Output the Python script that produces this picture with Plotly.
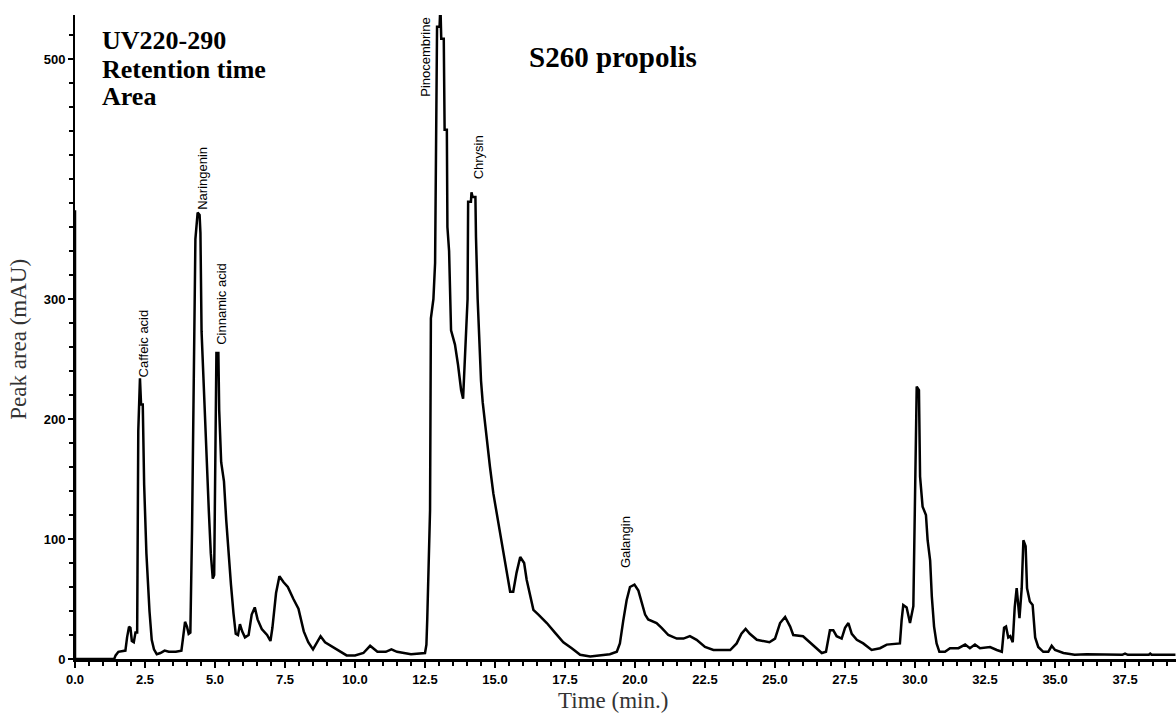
import plotly.graph_objects as go

# Retention time (min) and detector response (mAU) of the S260 propolis run
time_min = [
    0.00, 0.00, 0.00, 1.40, 1.45, 1.55, 1.80, 1.86, 1.93, 1.98, 2.03, 2.10, 2.16, 2.22,
    2.26, 2.32, 2.36, 2.42, 2.47, 2.55, 2.60, 2.66, 2.74, 2.82, 2.92, 3.05, 3.20, 3.35,
    3.60, 3.80, 3.85, 3.93, 4.00, 4.06, 4.12, 4.18, 4.30, 4.38, 4.45, 4.48, 4.52, 4.62,
    4.70, 4.78, 4.85, 4.92, 4.97, 5.00, 5.05, 5.12, 5.15, 5.22, 5.32, 5.40, 5.48, 5.57,
    5.66, 5.74, 5.82, 5.89, 5.97, 6.07, 6.20, 6.31, 6.42, 6.52, 6.67, 6.86, 6.98, 7.05,
    7.18, 7.30, 7.45, 7.60, 7.80, 7.98, 8.17, 8.33, 8.50, 8.64, 8.77, 8.93, 9.20, 9.70,
    10.00, 10.30, 10.54, 10.80, 11.10, 11.30, 11.50, 12.00, 12.50, 12.55, 12.58, 12.62,
    12.68, 12.71, 12.80, 12.86, 12.89, 12.93, 13.02, 13.05, 13.08, 13.17, 13.20, 13.28,
    13.30, 13.36, 13.43, 13.57, 13.68, 13.79, 13.86, 13.90, 13.96, 14.02, 14.04, 14.14,
    14.16, 14.20, 14.30, 14.32, 14.38, 14.44, 14.50, 14.56, 14.64, 14.76, 14.82, 14.94,
    15.06, 15.18, 15.30, 15.42, 15.54, 15.65, 15.77, 15.90, 16.04, 16.13, 16.25, 16.37,
    16.55, 16.85, 17.14, 17.44, 17.74, 18.04, 18.40, 18.75, 19.10, 19.35, 19.46, 19.58,
    19.70, 19.82, 19.98, 20.12, 20.24, 20.36, 20.47, 20.77, 20.95, 21.19, 21.49, 21.73,
    21.96, 22.20, 22.50, 22.80, 23.40, 23.63, 23.80, 23.95, 24.10, 24.35, 24.80, 25.00,
    25.18, 25.36, 25.54, 25.65, 26.00, 26.25, 26.50, 26.67, 26.82, 26.96, 27.08, 27.20,
    27.38, 27.50, 27.62, 27.74, 27.92, 28.15, 28.45, 28.75, 28.99, 29.29, 29.46, 29.52,
    29.58, 29.70, 29.82, 29.94, 30.00, 30.06, 30.14, 30.18, 30.27, 30.39, 30.45, 30.54,
    30.60, 30.68, 30.77, 30.87, 31.07, 31.25, 31.55, 31.79, 31.96, 32.14, 32.32, 32.68,
    32.92, 33.10, 33.18, 33.25, 33.33, 33.40, 33.49, 33.56, 33.63, 33.73, 33.81, 33.87,
    33.95, 34.00, 34.10, 34.20, 34.29, 34.40, 34.58, 34.76, 34.88, 35.00, 35.30, 35.70,
    36.13, 36.48, 36.60, 37.40, 37.50, 37.60, 38.35, 38.40, 38.45, 39.30,
]
response_mau = [
    374, 345, 0, 0, 3, 6, 7, 18, 27, 26, 15, 14, 22, 22,
    190, 234, 212, 212, 145, 88, 60, 40, 16, 8, 4, 5, 7, 6,
    6, 7, 16, 31, 27, 21, 22, 108, 350, 372, 370, 355, 273, 209,
    162, 123, 88, 67, 70, 168, 255, 255, 207, 164, 148, 116, 87, 62,
    38, 21, 20, 29, 23, 18, 20, 37, 43, 33, 25, 20, 15, 26,
    55, 69, 64, 60, 50, 42, 23, 14, 8, 14, 19, 14, 10, 3,
    3, 5, 11, 6, 6, 8, 6, 4, 5, 12, 33, 80,
    124, 284, 300, 330, 441, 527, 527, 545, 517, 517, 441, 441,
    360, 340, 274, 262, 245, 224, 217, 240, 266, 300, 381, 381,
    389, 385, 385, 352, 300, 262, 232, 214, 196, 174, 160, 138,
    121, 105, 88, 72, 56, 56, 72, 85, 80, 66, 52, 41,
    37, 30, 22, 14, 9, 3.5, 2, 3, 4, 6, 13, 32,
    49, 60, 62, 57, 47, 37, 33, 30, 26, 20, 17, 17,
    19, 16, 10, 7.5, 7.5, 13, 21, 25, 21, 16, 14, 17,
    30, 35, 27, 20, 19, 14, 9, 5, 6, 24, 24, 19,
    17, 26, 30, 21, 16, 13, 7.5, 9, 12, 13, 13, 32,
    45, 43, 30, 44, 156, 227, 224, 152, 127, 120, 99, 82,
    52, 27, 13, 6, 6, 9, 9, 12, 9, 12, 9, 10,
    7.5, 6, 26, 27, 18, 19, 14, 43, 59, 34, 59, 99,
    94, 59, 48, 45, 18, 10, 6, 6, 11, 7.5, 5, 3.5,
    4, 4, 3.5, 3.5, 4.5, 3.5, 3.5, 4.5, 3.5, 3.5,
]

# Identified compounds: label text and where each name sits (time, mAU)
compound_names = ["Caffeic acid", "Naringenin", "Cinnamic acid",
                  "Pinocembrine", "Chrysin", "Galangin"]
label_time = [2.43, 4.57, 5.25, 12.54, 14.39, 19.66]
label_level = [263, 401, 296, 502, 418, 97]

y_tick_values = [0, 100, 200, 300, 500]
y_tick_text = ["0", "100", "200", "300", "500"]

fig = go.Figure()
fig.add_trace(go.Scatter(
    x=time_min, y=response_mau, mode="lines",
    line=dict(color="black", width=2.5),
    hoverinfo="skip", showlegend=False,
))

for name, t, lvl in zip(compound_names, label_time, label_level):
    fig.add_annotation(
        x=t, y=lvl, xref="x", yref="y", text=name, textangle=-90,
        showarrow=False, xanchor="center", yanchor="middle",
        font=dict(family="Liberation Sans", size=13, color="black"),
    )

# Method notes and sample name
for txt, ypos in [("UV220-290", 0.961), ("Retention time", 0.915), ("Area", 0.873)]:
    fig.add_annotation(
        x=0.0227, y=ypos, xref="paper", yref="paper", text=txt,
        showarrow=False, xanchor="left", yanchor="middle",
        font=dict(family="Liberation Serif", size=26, color="black", weight="bold"),
    )
fig.add_annotation(
    x=0.4105, y=0.935, xref="paper", yref="paper", text="S260 propolis",
    showarrow=False, xanchor="left", yanchor="middle",
    font=dict(family="Liberation Serif", size=29, color="black", weight="bold"),
)

# Axis titles
fig.add_annotation(
    x=-0.051, y=0.497, xref="paper", yref="paper", text="Peak area (mAU)",
    textangle=-90, showarrow=False, xanchor="center", yanchor="middle",
    font=dict(family="Liberation Serif", size=23, color="#333333"),
)
fig.add_annotation(
    x=0.489, y=-0.0865, xref="paper", yref="paper", text="Time (min.)",
    showarrow=False, xanchor="center", yanchor="bottom",
    font=dict(family="Liberation Serif", size=23, color="#333333"),
)

fig.update_xaxes(
    range=[0, 39.32], dtick=2.5, tick0=0, tickformat=".1f",
    showgrid=False, zeroline=False,
    showline=True, linecolor="black", linewidth=3,
    ticks="outside", ticklen=6, tickwidth=2, tickcolor="black",
    minor=dict(dtick=0.5, ticks="outside", ticklen=4, tickwidth=2, tickcolor="black", showgrid=False),
    tickfont=dict(family="Liberation Sans", size=13, color="black", weight="bold"),
)
fig.update_yaxes(
    range=[0, 536.7], tickvals=y_tick_values, ticktext=y_tick_text,
    showgrid=False, zeroline=False,
    showline=True, linecolor="black", linewidth=2,
    ticks="outside", ticklen=5, tickwidth=2, tickcolor="black",
    minor=dict(dtick=20, ticks="outside", ticklen=4, tickwidth=2, tickcolor="black", showgrid=False),
    tickfont=dict(family="Liberation Sans", size=13, color="black", weight="bold"),
)

fig.update_layout(
    width=1176, height=715,
    margin=dict(l=75, r=0, t=15, b=56),
    paper_bgcolor="white", plot_bgcolor="white",
)

fig.write_html("out.html")
